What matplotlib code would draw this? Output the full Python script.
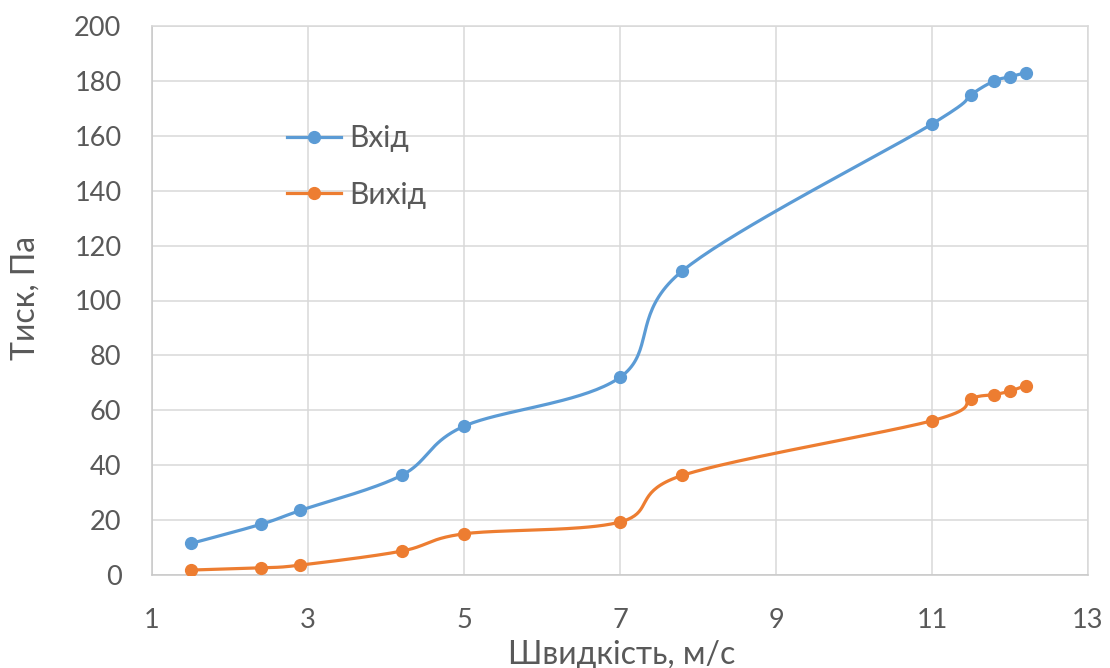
import numpy as np
import matplotlib
matplotlib.use("Agg")
import matplotlib.pyplot as plt
from matplotlib.lines import Line2D

plt.rcParams['font.family'] = ['Lato', 'DejaVu Sans']

# Швидкість потоку, м/с
speed = [1.5, 2.4, 2.9, 4.2, 5.0, 7.0, 7.8, 11.0, 11.5, 11.8, 12.0, 12.2]
# Тиск на вході та виході, Па
p_in = [11.5, 18.5, 23.5, 36.3, 54.2, 72.0, 110.8, 164.3, 175.0, 180.0, 181.5, 183.0]
p_out = [1.8, 2.6, 3.6, 8.7, 15.0, 19.3, 36.3, 56.2, 64.2, 65.7, 67.0, 69.0]
series_names = ["Вхід", "Вихід"]
x_ticks = [1, 3, 5, 7, 9, 11, 13]
y_ticks = list(range(0, 201, 20))

BLUE = "#5B9BD5"
ORANGE = "#ED7D31"
TEXT = "#595959"
GRID = "#D9D9D9"


def smooth(xs, ys, n=40):
    """Catmull-Rom style cubic Bezier smoothing through every point."""
    P = np.column_stack([xs, ys]).astype(float)
    m = len(P)
    out = [P[0]]
    t = np.linspace(0, 1, n)[1:, None]
    for i in range(m - 1):
        p0 = P[i - 1] if i > 0 else P[i]
        p1, p2 = P[i], P[i + 1]
        p3 = P[i + 2] if i + 2 < m else P[i + 1]
        c1 = p1 + (p2 - p0) / 6.0
        c2 = p2 - (p3 - p1) / 6.0
        seg = ((1 - t) ** 3) * p1 + 3 * ((1 - t) ** 2) * t * c1 \
            + 3 * (1 - t) * t ** 2 * c2 + t ** 3 * p2
        out.extend(seg)
    out = np.array(out)
    return out[:, 0], out[:, 1]


fig = plt.figure(figsize=(11.10, 6.68), dpi=100)
ax = fig.add_axes([152 / 1110, 1 - 575 / 668, (1088 - 152) / 1110, (575 - 26) / 668])

for ys, color in [(p_in, BLUE), (p_out, ORANGE)]:
    sx, sy = smooth(speed, ys)
    ax.plot(sx, sy, color=color, lw=2.3, solid_capstyle='round', zorder=3)
    ax.plot(speed, ys, 'o', color=color, ms=8.5, zorder=4)

ax.set_xlim(1, 13)
ax.set_ylim(0, 200)
ax.set_xticks(x_ticks)
ax.set_yticks(y_ticks)
ax.grid(True, color=GRID, lw=1.1)
ax.set_axisbelow(True)
for s in ax.spines.values():
    s.set_color(GRID)
    s.set_linewidth(1.1)
ax.spines['left'].set_color("#C8C8C8")
ax.spines['bottom'].set_color("#C8C8C8")
ax.tick_params(length=0, labelsize=19.5, labelcolor=TEXT)
ax.tick_params(axis='x', pad=24)
ax.tick_params(axis='y', pad=22)

handles = [Line2D([], [], color=c, lw=2.3, marker='o', ms=8.5) for c in (BLUE, ORANGE)]
ax.legend(handles, series_names, loc='upper left', bbox_to_anchor=(0.116, 0.87),
          frameon=False, fontsize=21.5, labelcolor=TEXT, handlelength=1.8,
          handletextpad=0.27, labelspacing=0.95)

fig.text(622 / 1110, 1 - 655 / 668, "Швидкість, м/с", ha='center', va='center',
         fontsize=23, color=TEXT)
fig.text(26 / 1110, 1 - 298 / 668, "Тиск, Па", ha='center', va='center',
         rotation=90, fontsize=23, color=TEXT)

fig.savefig("out.png", dpi=100, facecolor='white')
